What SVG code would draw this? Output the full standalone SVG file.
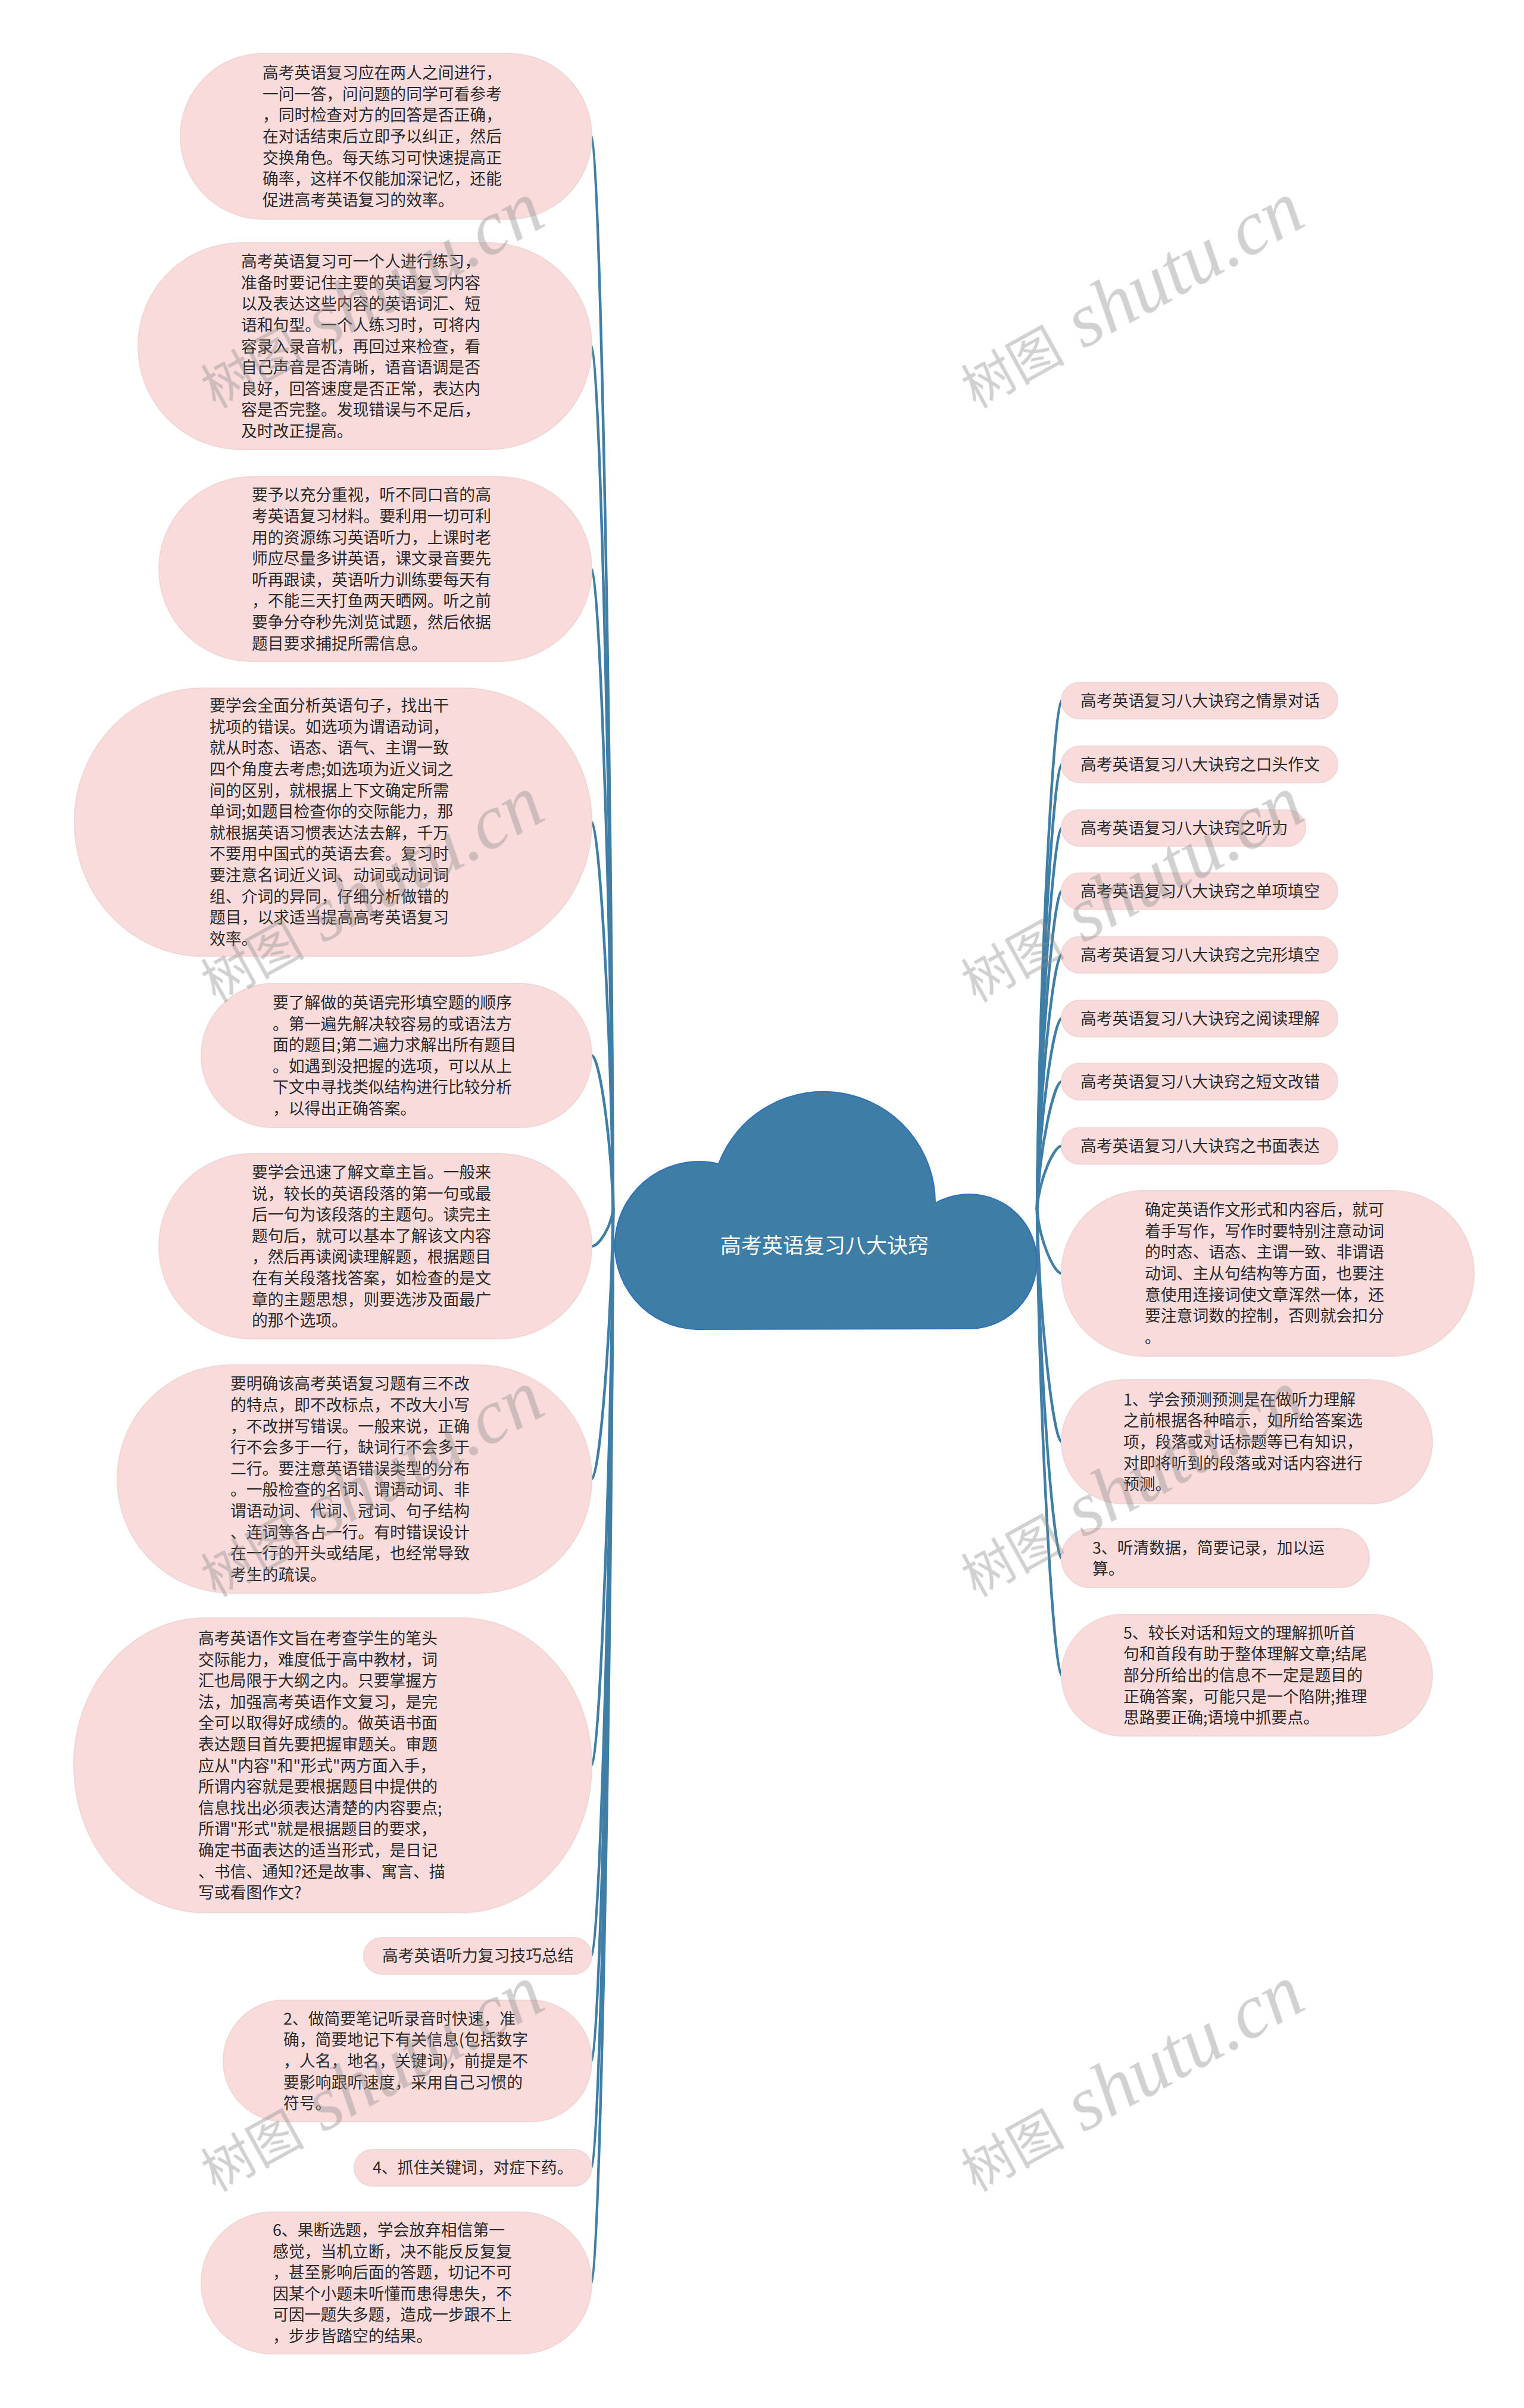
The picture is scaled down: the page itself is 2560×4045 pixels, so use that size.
<svg xmlns="http://www.w3.org/2000/svg" width="2560" height="4045" viewBox="0 0 2560 4045">
<style>
.nd{fill:#fadbdb;stroke:#f1d6d6;stroke-width:2}
.tx{font-family:"Noto Sans CJK SC","Noto Sans",sans-serif;font-size:26.8px;fill:#2a2a2a}
.ct{font-family:"Noto Sans CJK SC","Noto Sans",sans-serif;font-size:35px;fill:#ffffff}
.cn path{fill:none;stroke:#3f7ea6;stroke-width:4.5;stroke-linecap:round}
.wm{fill:#8c8c8c;opacity:0.4}
.wa{font-family:"Noto Sans CJK SC",sans-serif;font-size:87px}
.wb{font-family:"Liberation Serif",serif;font-style:italic;font-size:129px}
</style>
<rect width="2560" height="4045" fill="#ffffff"/>
<g id="connectors" class="cn">
<path d="M1030 2031 C1026 1130 1006 229 994 229"/>
<path d="M1030 2031 C1026 1306 1006 581.5 994 581.5"/>
<path d="M1030 2031 C1026 1493.5 1006 956 994 956"/>
<path d="M1030 2031 C1026 1706 1006 1381 994 1381"/>
<path d="M1030 2031 C1026 1902 1006 1773 994 1773"/>
<path d="M1030 2031 C1026 2062 1006 2093.5 994 2093.5"/>
<path d="M1030 2031 C1026 2258 1006 2484.5 994 2484.5"/>
<path d="M1030 2031 C1026 2498 1006 2965.5 994 2965.5"/>
<path d="M1030 2031 C1026 2658 1006 3285 994 3285"/>
<path d="M1030 2031 C1026 2746 1006 3462 994 3462"/>
<path d="M1030 2031 C1026 2836 1006 3641 994 3641"/>
<path d="M1030 2031 C1026 2933 1006 3835 994 3835"/>
<path d="M1742 2031 C1746 1604 1771 1177 1783 1177"/>
<path d="M1742 2031 C1746 1657 1771 1284 1783 1284"/>
<path d="M1742 2031 C1746 1711 1771 1391 1783 1391"/>
<path d="M1742 2031 C1746 1764 1771 1497 1783 1497"/>
<path d="M1742 2031 C1746 1817 1771 1604 1783 1604"/>
<path d="M1742 2031 C1746 1871 1771 1711 1783 1711"/>
<path d="M1742 2031 C1746 1924 1771 1817 1783 1817"/>
<path d="M1742 2031 C1746 1978 1771 1925 1783 1925"/>
<path d="M1742 2031 C1746 2085 1771 2139 1783 2139"/>
<path d="M1742 2031 C1746 2226 1771 2422 1783 2422"/>
<path d="M1742 2031 C1746 2324 1771 2617.5 1783 2617.5"/>
<path d="M1742 2031 C1746 2422 1771 2814 1783 2814"/>
</g>
<g id="center">
<path d="M1170 2233 A141 141 0 1 1 1207 1955 A188 187 0 0 1 1571 2021 A114 113 0 1 1 1628 2232 Z" fill="#3e7ea6" stroke="#2f70bb" stroke-width="2"/>
<text class="ct" x="1385" y="2105" text-anchor="middle">高考英语复习八大诀窍</text>
</g>
<g id="L1"><rect class="nd" x="303" y="90" width="691" height="278" rx="139" ry="139"/>
<text class="tx" y="132.2"><tspan x="441">高考英语复习应在两人之间进行，</tspan><tspan x="441" dy="35.6">一问一答，问问题的同学可看参考</tspan><tspan x="441" dy="35.6">，同时检查对方的回答是否正确，</tspan><tspan x="441" dy="35.6">在对话结束后立即予以纠正，然后</tspan><tspan x="441" dy="35.6">交换角色。每天练习可快速提高正</tspan><tspan x="441" dy="35.6">确率，这样不仅能加深记忆，还能</tspan><tspan x="441" dy="35.6">促进高考英语复习的效率。</tspan></text></g>
<g id="L2"><rect class="nd" x="232" y="408" width="762" height="347" rx="173" ry="173"/>
<text class="tx" y="449.1"><tspan x="405">高考英语复习可一个人进行练习，</tspan><tspan x="405" dy="35.6">准备时要记住主要的英语复习内容</tspan><tspan x="405" dy="35.6">以及表达这些内容的英语词汇、短</tspan><tspan x="405" dy="35.6">语和句型。一个人练习时，可将内</tspan><tspan x="405" dy="35.6">容录入录音机，再回过来检查，看</tspan><tspan x="405" dy="35.6">自己声音是否清晰，语音语调是否</tspan><tspan x="405" dy="35.6">良好，回答速度是否正常，表达内</tspan><tspan x="405" dy="35.6">容是否完整。发现错误与不足后，</tspan><tspan x="405" dy="35.6">及时改正提高。</tspan></text></g>
<g id="L3"><rect class="nd" x="267" y="801" width="727" height="310" rx="155" ry="155"/>
<text class="tx" y="841.4"><tspan x="423">要予以充分重视，听不同口音的高</tspan><tspan x="423" dy="35.6">考英语复习材料。要利用一切可利</tspan><tspan x="423" dy="35.6">用的资源练习英语听力，上课时老</tspan><tspan x="423" dy="35.6">师应尽量多讲英语，课文录音要先</tspan><tspan x="423" dy="35.6">听再跟读，英语听力训练要每天有</tspan><tspan x="423" dy="35.6">，不能三天打鱼两天晒网。听之前</tspan><tspan x="423" dy="35.6">要争分夺秒先浏览试题，然后依据</tspan><tspan x="423" dy="35.6">题目要求捕捉所需信息。</tspan></text></g>
<g id="L4"><rect class="nd" x="125" y="1156" width="869" height="450" rx="215" ry="225"/>
<text class="tx" y="1195.2"><tspan x="352">要学会全面分析英语句子，找出干</tspan><tspan x="352" dy="35.6">扰项的错误。如选项为谓语动词，</tspan><tspan x="352" dy="35.6">就从时态、语态、语气、主谓一致</tspan><tspan x="352" dy="35.6">四个角度去考虑;如选项为近义词之</tspan><tspan x="352" dy="35.6">间的区别，就根据上下文确定所需</tspan><tspan x="352" dy="35.6">单词;如题目检查你的交际能力，那</tspan><tspan x="352" dy="35.6">就根据英语习惯表达法去解，千万</tspan><tspan x="352" dy="35.6">不要用中国式的英语去套。复习时</tspan><tspan x="352" dy="35.6">要注意名词近义词、动词或动词词</tspan><tspan x="352" dy="35.6">组、介词的异同，仔细分析做错的</tspan><tspan x="352" dy="35.6">题目，以求适当提高高考英语复习</tspan><tspan x="352" dy="35.6">效率。</tspan></text></g>
<g id="L5"><rect class="nd" x="338" y="1652" width="656" height="242" rx="121" ry="121"/>
<text class="tx" y="1694"><tspan x="458">要了解做的英语完形填空题的顺序</tspan><tspan x="458" dy="35.6">。第一遍先解决较容易的或语法方</tspan><tspan x="458" dy="35.6">面的题目;第二遍力求解出所有题目</tspan><tspan x="458" dy="35.6">。如遇到没把握的选项，可以从上</tspan><tspan x="458" dy="35.6">下文中寻找类似结构进行比较分析</tspan><tspan x="458" dy="35.6">，以得出正确答案。</tspan></text></g>
<g id="L6"><rect class="nd" x="267" y="1938" width="727" height="311" rx="155" ry="155"/>
<text class="tx" y="1978.9"><tspan x="423">要学会迅速了解文章主旨。一般来</tspan><tspan x="423" dy="35.6">说，较长的英语段落的第一句或最</tspan><tspan x="423" dy="35.6">后一句为该段落的主题句。读完主</tspan><tspan x="423" dy="35.6">题句后，就可以基本了解该文内容</tspan><tspan x="423" dy="35.6">，然后再读阅读理解题，根据题目</tspan><tspan x="423" dy="35.6">在有关段落找答案，如检查的是文</tspan><tspan x="423" dy="35.6">章的主题思想，则要选涉及面最广</tspan><tspan x="423" dy="35.6">的那个选项。</tspan></text></g>
<g id="L7"><rect class="nd" x="197" y="2293" width="797" height="383" rx="191" ry="191"/>
<text class="tx" y="2334.3"><tspan x="387">要明确该高考英语复习题有三不改</tspan><tspan x="387" dy="35.6">的特点，即不改标点，不改大小写</tspan><tspan x="387" dy="35.6">，不改拼写错误。一般来说，正确</tspan><tspan x="387" dy="35.6">行不会多于一行，缺词行不会多于</tspan><tspan x="387" dy="35.6">二行。要注意英语错误类型的分布</tspan><tspan x="387" dy="35.6">。一般检查的名词、谓语动词、非</tspan><tspan x="387" dy="35.6">谓语动词、代词、冠词、句子结构</tspan><tspan x="387" dy="35.6">、连词等各占一行。有时错误设计</tspan><tspan x="387" dy="35.6">在一行的开头或结尾，也经常导致</tspan><tspan x="387" dy="35.6">考生的疏误。</tspan></text></g>
<g id="L8"><rect class="nd" x="124" y="2718" width="870" height="495" rx="220" ry="247"/>
<text class="tx" y="2761.9"><tspan x="333">高考英语作文旨在考查学生的笔头</tspan><tspan x="333" dy="35.6">交际能力，难度低于高中教材，词</tspan><tspan x="333" dy="35.6">汇也局限于大纲之内。只要掌握方</tspan><tspan x="333" dy="35.6">法，加强高考英语作文复习，是完</tspan><tspan x="333" dy="35.6">全可以取得好成绩的。做英语书面</tspan><tspan x="333" dy="35.6">表达题目首先要把握审题关。审题</tspan><tspan x="333" dy="35.6">应从"内容"和"形式"两方面入手，</tspan><tspan x="333" dy="35.6">所谓内容就是要根据题目中提供的</tspan><tspan x="333" dy="35.6">信息找出必须表达清楚的内容要点;</tspan><tspan x="333" dy="35.6">所谓"形式"就是根据题目的要求，</tspan><tspan x="333" dy="35.6">确定书面表达的适当形式，是日记</tspan><tspan x="333" dy="35.6">、书信、通知?还是故事、寓言、描</tspan><tspan x="333" dy="35.6">写或看图作文?</tspan></text></g>
<g id="L9"><rect class="nd" x="611" y="3255" width="383" height="61" rx="30.5" ry="30.5"/>
<text class="tx" x="642" y="3295">高考英语听力复习技巧总结</text></g>
<g id="L10"><rect class="nd" x="375" y="3360" width="619" height="204" rx="102" ry="102"/>
<text class="tx" y="3400.8"><tspan x="476">2、做简要笔记听录音时快速，准</tspan><tspan x="476" dy="35.6">确，简要地记下有关信息(包括数字</tspan><tspan x="476" dy="35.6">，人名，地名，关键词)，前提是不</tspan><tspan x="476" dy="35.6">要影响跟听速度，采用自己习惯的</tspan><tspan x="476" dy="35.6">符号。</tspan></text></g>
<g id="L11"><rect class="nd" x="595" y="3611" width="399" height="61" rx="30.5" ry="30.5"/>
<text class="tx" x="626" y="3651">4、抓住关键词，对症下药。</text></g>
<g id="L12"><rect class="nd" x="338" y="3716" width="656" height="238" rx="119" ry="119"/>
<text class="tx" y="3756"><tspan x="458">6、果断选题，学会放弃相信第一</tspan><tspan x="458" dy="35.6">感觉，当机立断，决不能反反复复</tspan><tspan x="458" dy="35.6">，甚至影响后面的答题，切记不可</tspan><tspan x="458" dy="35.6">因某个小题未听懂而患得患失，不</tspan><tspan x="458" dy="35.6">可因一题失多题，造成一步跟不上</tspan><tspan x="458" dy="35.6">，步步皆踏空的结果。</tspan></text></g>
<g id="R1"><rect class="nd" x="1783" y="1146.5" width="464" height="61" rx="30.5" ry="30.5"/><text class="tx" x="1815" y="1187">高考英语复习八大诀窍之情景对话</text></g>
<g id="R2"><rect class="nd" x="1783" y="1253.5" width="464" height="61" rx="30.5" ry="30.5"/><text class="tx" x="1815" y="1294">高考英语复习八大诀窍之口头作文</text></g>
<g id="R3"><rect class="nd" x="1783" y="1360.5" width="410" height="61" rx="30.5" ry="30.5"/><text class="tx" x="1815" y="1401">高考英语复习八大诀窍之听力</text></g>
<g id="R4"><rect class="nd" x="1783" y="1466.5" width="464" height="61" rx="30.5" ry="30.5"/><text class="tx" x="1815" y="1507">高考英语复习八大诀窍之单项填空</text></g>
<g id="R5"><rect class="nd" x="1783" y="1573.5" width="464" height="61" rx="30.5" ry="30.5"/><text class="tx" x="1815" y="1614">高考英语复习八大诀窍之完形填空</text></g>
<g id="R6"><rect class="nd" x="1783" y="1680.5" width="464" height="61" rx="30.5" ry="30.5"/><text class="tx" x="1815" y="1721">高考英语复习八大诀窍之阅读理解</text></g>
<g id="R7"><rect class="nd" x="1783" y="1786.5" width="464" height="61" rx="30.5" ry="30.5"/><text class="tx" x="1815" y="1827">高考英语复习八大诀窍之短文改错</text></g>
<g id="R8"><rect class="nd" x="1783" y="1894.5" width="464" height="61" rx="30.5" ry="30.5"/><text class="tx" x="1815" y="1935">高考英语复习八大诀窍之书面表达</text></g>
<g id="R9"><rect class="nd" x="1783" y="2000" width="693" height="278" rx="139" ry="139"/>
<text class="tx" y="2042.2"><tspan x="1923">确定英语作文形式和内容后，就可</tspan><tspan x="1923" dy="35.6">着手写作，写作时要特别注意动词</tspan><tspan x="1923" dy="35.6">的时态、语态、主谓一致、非谓语</tspan><tspan x="1923" dy="35.6">动词、主从句结构等方面，也要注</tspan><tspan x="1923" dy="35.6">意使用连接词使文章浑然一体，还</tspan><tspan x="1923" dy="35.6">要注意词数的控制，否则就会扣分</tspan><tspan x="1923" dy="35.6">。</tspan></text></g>
<g id="R10"><rect class="nd" x="1783" y="2318" width="623" height="208" rx="104" ry="104"/>
<text class="tx" y="2360.8"><tspan x="1887">1、学会预测预测是在做听力理解</tspan><tspan x="1887" dy="35.6">之前根据各种暗示，如所给答案选</tspan><tspan x="1887" dy="35.6">项，段落或对话标题等已有知识，</tspan><tspan x="1887" dy="35.6">对即将听到的段落或对话内容进行</tspan><tspan x="1887" dy="35.6">预测。</tspan></text></g>
<g id="R11"><rect class="nd" x="1783" y="2568" width="517" height="99" rx="49.5" ry="49.5"/>
<text class="tx" y="2609.7"><tspan x="1835">3、听清数据，简要记录，加以运</tspan><tspan x="1835" dy="35.6">算。</tspan></text></g>
<g id="R12"><rect class="nd" x="1783" y="2712" width="623" height="204" rx="102" ry="102"/>
<text class="tx" y="2752.8"><tspan x="1887">5、较长对话和短文的理解抓听首</tspan><tspan x="1887" dy="35.6">句和首段有助于整体理解文章;结尾</tspan><tspan x="1887" dy="35.6">部分所给出的信息不一定是题目的</tspan><tspan x="1887" dy="35.6">正确答案，可能只是一个陷阱;推理</tspan><tspan x="1887" dy="35.6">思路要正确;语境中抓要点。</tspan></text></g>
<g id="watermarks" class="wm">
<text transform="translate(362 687) rotate(-29)"><tspan class="wa">树图</tspan><tspan class="wb"> shutu.cn</tspan></text>
<text transform="translate(1639 687) rotate(-29)"><tspan class="wa">树图</tspan><tspan class="wb"> shutu.cn</tspan></text>
<text transform="translate(362 1685) rotate(-29)"><tspan class="wa">树图</tspan><tspan class="wb"> shutu.cn</tspan></text>
<text transform="translate(1639 1685) rotate(-29)"><tspan class="wa">树图</tspan><tspan class="wb"> shutu.cn</tspan></text>
<text transform="translate(362 2684) rotate(-29)"><tspan class="wa">树图</tspan><tspan class="wb"> shutu.cn</tspan></text>
<text transform="translate(1639 2684) rotate(-29)"><tspan class="wa">树图</tspan><tspan class="wb"> shutu.cn</tspan></text>
<text transform="translate(362 3683) rotate(-29)"><tspan class="wa">树图</tspan><tspan class="wb"> shutu.cn</tspan></text>
<text transform="translate(1639 3683) rotate(-29)"><tspan class="wa">树图</tspan><tspan class="wb"> shutu.cn</tspan></text>
</g>
</svg>
